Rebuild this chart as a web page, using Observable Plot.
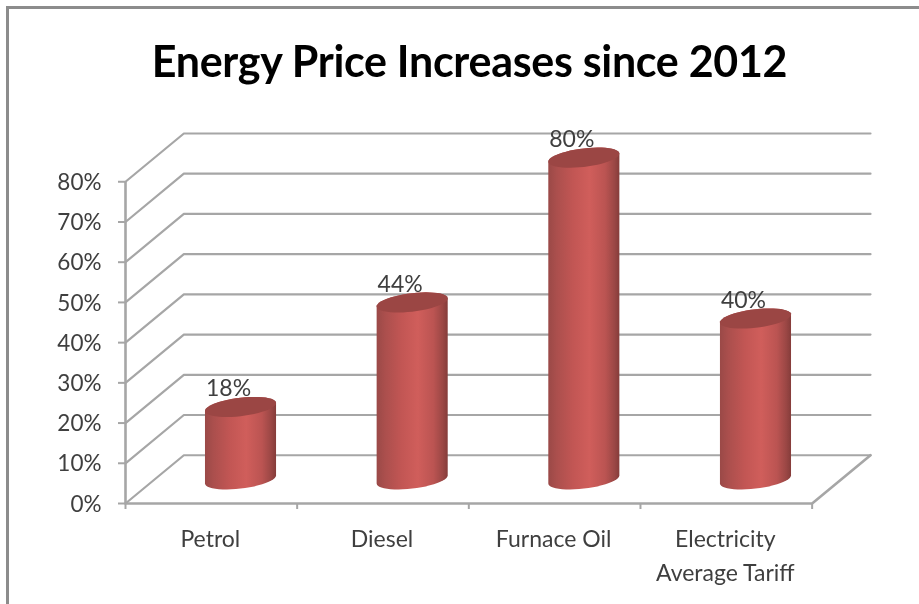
<!DOCTYPE html>
<html>
<head>
<meta charset="utf-8">
<script src="https://cdn.jsdelivr.net/npm/d3@7"></script>
<script src="https://cdn.jsdelivr.net/npm/@observablehq/plot@0.6"></script>
<style>
  html, body { margin: 0; padding: 0; background: #fff; }
  #page { position: relative; width: 919px; height: 604px; overflow: hidden; font-family: Lato, sans-serif; }
  #frame { position: absolute; left: 6px; top: 6px; right: -10px; bottom: -10px; border-top: 3px solid #8c8c8c; border-left: 3px solid #8c8c8c; }
  #title { height: 110px; width: 919px; box-sizing: border-box; padding-top: 36px; padding-left: 20px; text-align: center; font-size: 43px; letter-spacing: -0.3px; line-height: 50px; font-weight: 700; color: #000; position: relative; white-space: nowrap; }
  #chart svg { display: block; }
  #chart, #title { filter: blur(0.6px); }
</style>
</head>
<body>
<div id="page">
  <div id="frame"></div>
  <div id="title">Energy Price Increases since 2012</div>
  <div id="chart"></div>
</div>
<script>
const titleText = "Energy Price Increases since 2012";
const categories = ["Petrol", "Diesel", "Furnace Oil", "Electricity\nAverage Tariff"];
const values = [18, 44, 80, 40];
const tickValues = [0, 10, 20, 30, 40, 50, 60, 70, 80];
const categoryTicks = [0, 1, 2, 3, 4];

// Oblique depth of the 3-D box, in scale units
const depthX = 0.34, depthY = 12;
// Cylinder cross-section, in scale units
const radX = 0.207, radY = 2.3, shear = 1.0;
const angles = d3.range(0, 25).map(i => i / 24 * Math.PI);

const midX = i => i + 0.5 + depthX / 2;
const midY = depthY / 2;
const n = categories.length;

const wall = tickValues.flatMap(v => [
  {g: v, x: 0, y: v},
  {g: v, x: depthX, y: v + depthY},
  {g: v, x: n + depthX, y: v + depthY}
]);
const floorEdge = [{x: 0, y: 0}, {x: n, y: 0}, {x: n + depthX, y: depthY}];

const bars = values.map((v, i) => ({i, v, cx: midX(i), top: v + midY, label: v + "%"}));
const bodies = bars.flatMap(b => [
  ...angles.map(t => ({i: b.i, x: b.cx + radX * Math.cos(t), y: midY + shear * Math.cos(t) - radY * Math.sin(t)})),
  ...angles.map(t => ({i: b.i, x: b.cx - radX * Math.cos(t), y: b.top - shear * Math.cos(t) + radY * Math.sin(t)}))
]);
const caps = bars.flatMap(b => [...angles, ...angles.map(t => t + Math.PI)].map(t => ({
  i: b.i, x: b.cx + radX * Math.cos(t), y: b.top + shear * Math.cos(t) + radY * Math.sin(t)
})));

function defs() {
  const d = d3.create("svg:defs");
  const g = d.append("linearGradient").attr("id", "cyl").attr("x1", 0).attr("x2", 1).attr("y1", 0).attr("y2", 0);
  [[0, "#9a4947"], [0.12, "#ab4f4d"], [0.35, "#c25654"], [0.58, "#d05e5b"], [0.8, "#bb5452"], [0.93, "#9b4745"], [1, "#853c3a"]]
    .forEach(([o, c]) => g.append("stop").attr("offset", o).attr("stop-color", c));
  return d.node();
}

const grey = "#a6a6a6";
const plot = Plot.plot({
  width: 919,
  height: 494,
  marginLeft: 125,
  marginRight: 49,
  marginTop: 23,
  marginBottom: 101,
  style: {fontFamily: "Lato, sans-serif", background: "transparent"},
  x: {type: "linear", domain: [0, n + depthX]},
  y: {domain: [0, 92]},
  marks: [
    defs,
    Plot.line(wall, {x: "x", y: "y", z: "g", stroke: grey, strokeWidth: 2.2}),
    Plot.line(floorEdge, {x: "x", y: "y", stroke: grey, strokeWidth: 2.6}),
    Plot.ruleX([0], {y1: 0, y2: 80, stroke: grey, strokeWidth: 2.6}),
    Plot.axisY({
      ticks: tickValues, tickFormat: () => "", tickSize: 7, stroke: grey, strokeWidth: 2, label: null
    }),
    Plot.text(tickValues, {
      x: () => 0, y: d => d, text: d => d + "%", textAnchor: "end", dx: -24, dy: 1,
      fontSize: 22.5, fill: "#3f3f3f"
    }),
    Plot.axisX({
      ticks: categoryTicks, tickFormat: () => "", tickSize: 6, stroke: grey, strokeWidth: 2, label: null
    }),
    Plot.line(bodies, {x: "x", y: "y", z: "i", fill: "url(#cyl)", stroke: "none", curve: "linear"}),
    Plot.line(caps, {x: "x", y: "y", z: "i", fill: "#9b4644", stroke: "none", curve: "linear"}),
    Plot.text(bars, {x: "cx", y: "top", text: "label", dx: -12, dy: -18, fontSize: 23, fill: "#3f3f3f"}),
    Plot.text(categories, {
      x: (d, i) => i + 0.5, y: () => 0, text: d => d, dx: -1, dy: 20, lineAnchor: "top",
      lineHeight: 1.45, fontSize: 23, fill: "#3f3f3f"
    })
  ]
});
document.getElementById("chart").append(plot);
</script>
</body>
</html>
